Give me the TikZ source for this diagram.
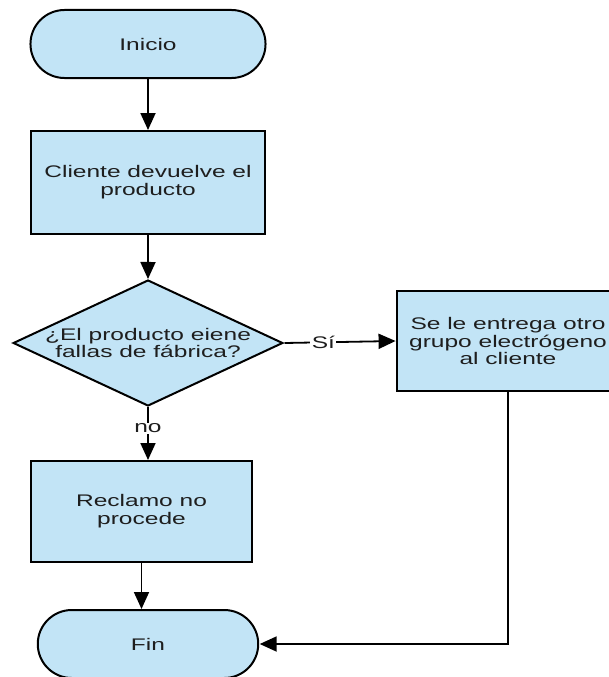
\documentclass[tikz,border=0pt]{standalone}
\usepackage{fontspec}
\setmainfont{Liberation Sans}
\usetikzlibrary{positioning, arrows.meta, shapes.geometric}
\definecolor{boxblue}{RGB}{194,228,246}
\definecolor{inkgray}{RGB}{30,30,30}

\begin{document}
\begin{tikzpicture}[x=1pt, y=-1pt, >={Triangle[length=17pt, width=15pt]},
    every node/.style={xscale=1.46, text=inkgray, font=\fontsize{16.8}{17.7}\selectfont},
    term/.style={draw, line width=2pt, fill=boxblue, rounded corners=34pt,
      minimum width=161pt, minimum height=68pt},
    proc/.style={draw, line width=2pt, fill=boxblue, align=center, inner sep=0pt},
    decis/.style={draw, line width=2pt, fill=boxblue, diamond, aspect=1.47,
      align=center, inner sep=-2pt},
    flow/.style={->, line width=1.8pt}]
      \useasboundingbox (0,0) rectangle (609,677);
      \node[term] (ini) at (148,44) {Inicio};
      \node[proc, minimum width=160pt, minimum height=103pt, below=51pt of ini] (dev)
        {Cliente devuelve el\\producto};
      \node[decis, minimum width=185pt, minimum height=126pt, below=44pt of dev] (fab)
        {¿El producto eiene\\fallas de fábrica?};
      \node[proc, minimum width=152pt, minimum height=100pt] (otro) at (508,341)
        {Se le entrega otro\\grupo electrógeno\\al cliente};
      \node[proc, minimum width=151pt, minimum height=101pt] (rec) at (141.5,511.5)
        {Reclamo no\\procede};
      \node[term, minimum width=151pt] (fin) at (148,644) {Fin};

      \draw[flow] (ini) -- (dev);
      \draw[flow] (dev) -- (fab);
      \draw[flow] (fab.east) -- node[fill=white, pos=0.35, inner sep=1pt] {Sí} (otro.west);
      \draw[flow] (fab.south) -- node[fill=white, pos=0.4, inner sep=1pt] {no} (fab.south |- rec.north);
      \draw[flow] (rec.south) -- (rec.south |- fin.north);
      \draw[flow] (otro.south) |- (fin.east);
    \end{tikzpicture}
\end{document}
